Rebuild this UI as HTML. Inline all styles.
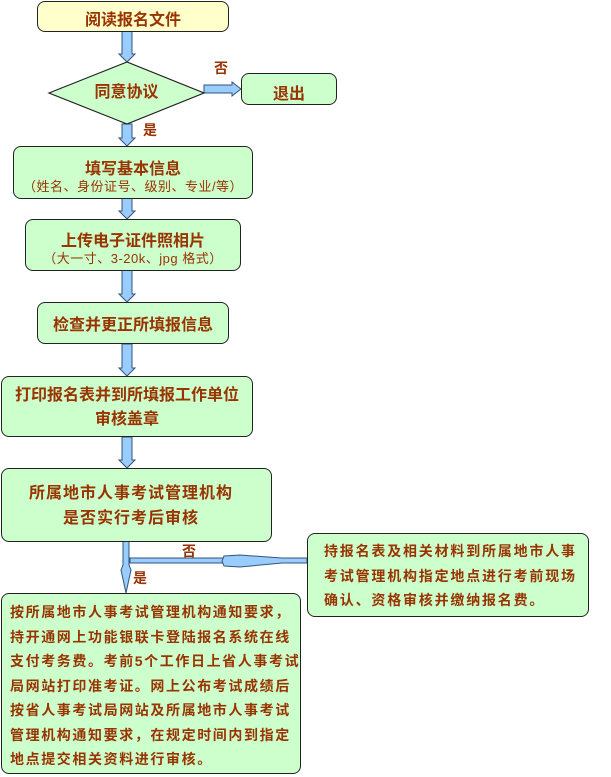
<!DOCTYPE html>
<html><head><meta charset="utf-8"><style>
body{margin:0;background:#fff;width:611px;height:777px;position:relative;overflow:hidden;font-family:"Liberation Sans","Noto Sans CJK SC","WenQuanYi Zen Hei",sans-serif;color:#993300;font-weight:bold}
.b{position:absolute;box-sizing:border-box;background:#ccffcc;border:1.5px solid #222;border-radius:8px;text-align:center}
.t{position:absolute;white-space:nowrap}
svg{position:absolute;left:0;top:0}
</style></head><body>
<svg width="611" height="777">
<g fill="#99ccff" stroke="#335577" stroke-width="1">
<polygon points="122,31 132,31 132,54 135,54 127,62 119,54 122,54"/>
<polygon points="122,124 132,124 132,138 135,138 127,146 119,138 122,138"/>
<polygon points="122,198 132,198 132,211 135,211 127,219 119,211 122,211"/>
<polygon points="122,270 132,270 132,294 135,294 127,302 119,294 122,294"/>
<polygon points="122,344 132,344 132,368 135,368 127,376 119,368 122,368"/>
<polygon points="122,437 132,437 132,460 135,460 127,468 119,460 122,460"/>
<polygon points="204,85 232,85 232,82 241,89 232,96 232,93 204,93"/>
<polygon points="123,541 129,541 129,565 131,570 126,593 121,570 123,565"/>
<polygon points="130,558 307,558 307,563 130,563"/>
<polygon points="224,556 240,555 282,558 307,558 307,563 282,563 240,567 224,566 222,561"/>
</g>
<polygon points="49,93 127,62 204,93 127,124" fill="#ccffcc" stroke="#222" stroke-width="1.2"/>
</svg>
<div class="b" style="left:37px;top:1px;width:192px;height:31px;background:#ffffcc"></div>
<div class="t" style="left:37px;top:6px;width:192px;text-align:center;font-size:16px">阅读报名文件</div>
<div class="t" style="left:49px;top:78px;width:155px;text-align:center;font-size:16px">同意协议</div>
<div class="b" style="left:241px;top:73px;width:96px;height:32px"></div>
<div class="t" style="left:241px;top:80px;width:96px;text-align:center;font-size:16px">退出</div>
<div class="t" style="left:214px;top:58px;font-size:14px">否</div>
<div class="t" style="left:143px;top:120px;font-size:14px">是</div>
<div class="b" style="left:13px;top:146px;width:240px;height:53px"></div>
<div class="t" style="left:13px;top:155px;width:240px;text-align:center;font-size:16px">填写基本信息</div>
<div class="t" style="left:13px;top:176px;width:240px;text-align:center;font-size:13px;letter-spacing:0.5px;font-weight:normal">（姓名、身份证号、级别、专业/等）</div>
<div class="b" style="left:25px;top:219px;width:216px;height:52px"></div>
<div class="t" style="left:25px;top:227px;width:216px;text-align:center;font-size:16px">上传电子证件照相片</div>
<div class="t" style="left:25px;top:248px;width:216px;text-align:center;font-size:13px;letter-spacing:0.5px;font-weight:normal">（大一寸、3-20k、jpg 格式）</div>
<div class="b" style="left:37px;top:302px;width:192px;height:42px"></div>
<div class="t" style="left:37px;top:311px;width:192px;text-align:center;font-size:16px">检查并更正所填报信息</div>
<div class="b" style="left:1px;top:376px;width:252px;height:61px"></div>
<div class="t" style="left:1px;top:384px;width:252px;text-align:center;font-size:16px;line-height:24px">打印报名表并到所填报工作单位<br>审核盖章</div>
<div class="b" style="left:1px;top:468px;width:271px;height:74px"></div>
<div class="t" style="left:12px;top:481px;width:238px;text-align:center;font-size:16px;letter-spacing:1px;line-height:25px">所属地市人事考试管理机构<br>是否实行考后审核</div>
<div class="t" style="left:182px;top:541px;font-size:14px">否</div>
<div class="t" style="left:133px;top:568px;font-size:14px">是</div>
<div class="b" style="left:307px;top:533px;width:282px;height:84px"></div>
<div class="t" style="left:324px;top:539px;font-size:14px;letter-spacing:1.8px;line-height:24.5px;text-align:left">持报名表及相关材料到所属地市人事<br>考试管理机构指定地点进行考前现场<br>确认、资格审核并缴纳报名费。</div>
<div class="b" style="left:1px;top:593px;width:300px;height:181px"></div>
<div class="t" style="left:10px;top:600px;font-size:14px;letter-spacing:1.6px;line-height:24.5px;text-align:left">按所属地市人事考试管理机构通知要求，<br>持开通网上功能银联卡登陆报名系统在线<br>支付考务费。考前5个工作日上省人事考试<br>局网站打印准考证。网上公布考试成绩后<br>按省人事考试局网站及所属地市人事考试<br>管理机构通知要求，在规定时间内到指定<br>地点提交相关资料进行审核。</div>
</body></html>
